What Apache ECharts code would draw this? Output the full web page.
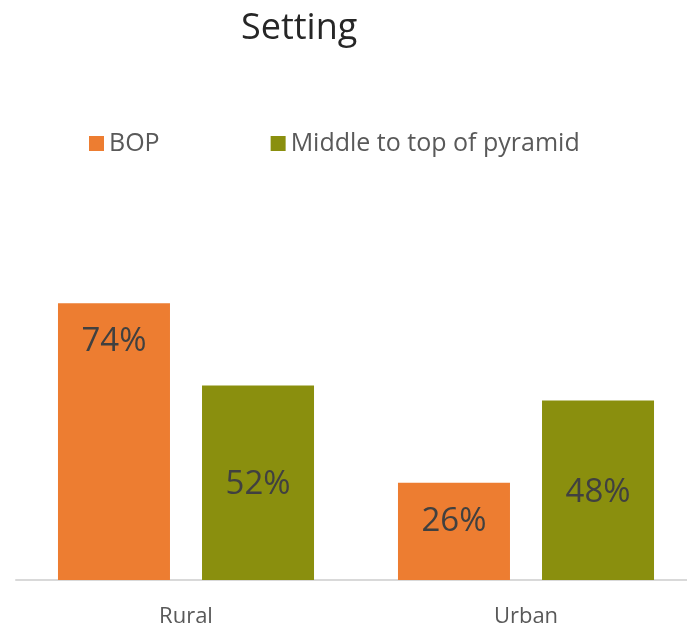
<!DOCTYPE html>
<html>
<head>
<meta charset="utf-8">
<script src="https://cdn.jsdelivr.net/npm/echarts@6/dist/echarts.min.js"></script>
<style>
  html, body { margin: 0; padding: 0; background: #ffffff; }
  #chart { width: 687px; height: 625px; }
</style>
</head>
<body>
<div id="chart"></div>
<script>
// Share of respondents by setting
const categories = ['Rural', 'Urban'];
const bopValues = [74, 26];
const middleTopValues = [52, 48];
const seriesNames = ['BOP', 'Middle to top of pyramid'];

const FONT = '"Open Sans", "Noto Sans", sans-serif';

const chart = echarts.init(document.getElementById('chart'), null, { renderer: 'canvas' });

chart.setOption({
  backgroundColor: '#ffffff',
  animation: false,
  title: {
    text: 'Setting',
    left: 236,
    top: 6,
    textStyle: { fontFamily: FONT, fontSize: 36, fontWeight: 'normal', color: '#262626' }
  },
  legend: {
    data: seriesNames,
    left: 84,
    top: 126,
    icon: 'rect',
    itemWidth: 15,
    itemHeight: 15,
    itemGap: 111,
    textStyle: { fontFamily: FONT, fontSize: 25, color: '#595959' }
  },
  grid: { left: 16, right: -9, top: 206, bottom: 45, outerBoundsMode: 'none' },
  xAxis: {
    type: 'category',
    data: categories,
    axisLine: { lineStyle: { color: '#d9d9d9', width: 2 } },
    axisTick: { show: false },
    axisLabel: { fontFamily: FONT, fontSize: 22, color: '#595959', margin: 26 }
  },
  yAxis: {
    type: 'value',
    min: 0,
    max: 100,
    show: false,
    splitLine: { show: false }
  },
  series: [
    {
      name: seriesNames[0],
      type: 'bar',
      data: bopValues,
      barWidth: 112,
      barGap: '28.6%',
      itemStyle: { color: '#ED7D31' },
      label: {
        show: true,
        position: 'insideTop',
        distance: 22,
        formatter: '{c}%',
        fontFamily: FONT,
        fontSize: 33,
        color: '#404040'
      }
    },
    {
      name: seriesNames[1],
      type: 'bar',
      data: middleTopValues,
      barWidth: 112,
      itemStyle: { color: '#8A8F0E' },
      label: {
        show: true,
        position: 'inside',
        offset: [0, 2],
        formatter: '{c}%',
        fontFamily: FONT,
        fontSize: 33,
        color: '#404040'
      }
    }
  ]
});
</script>
</body>
</html>
